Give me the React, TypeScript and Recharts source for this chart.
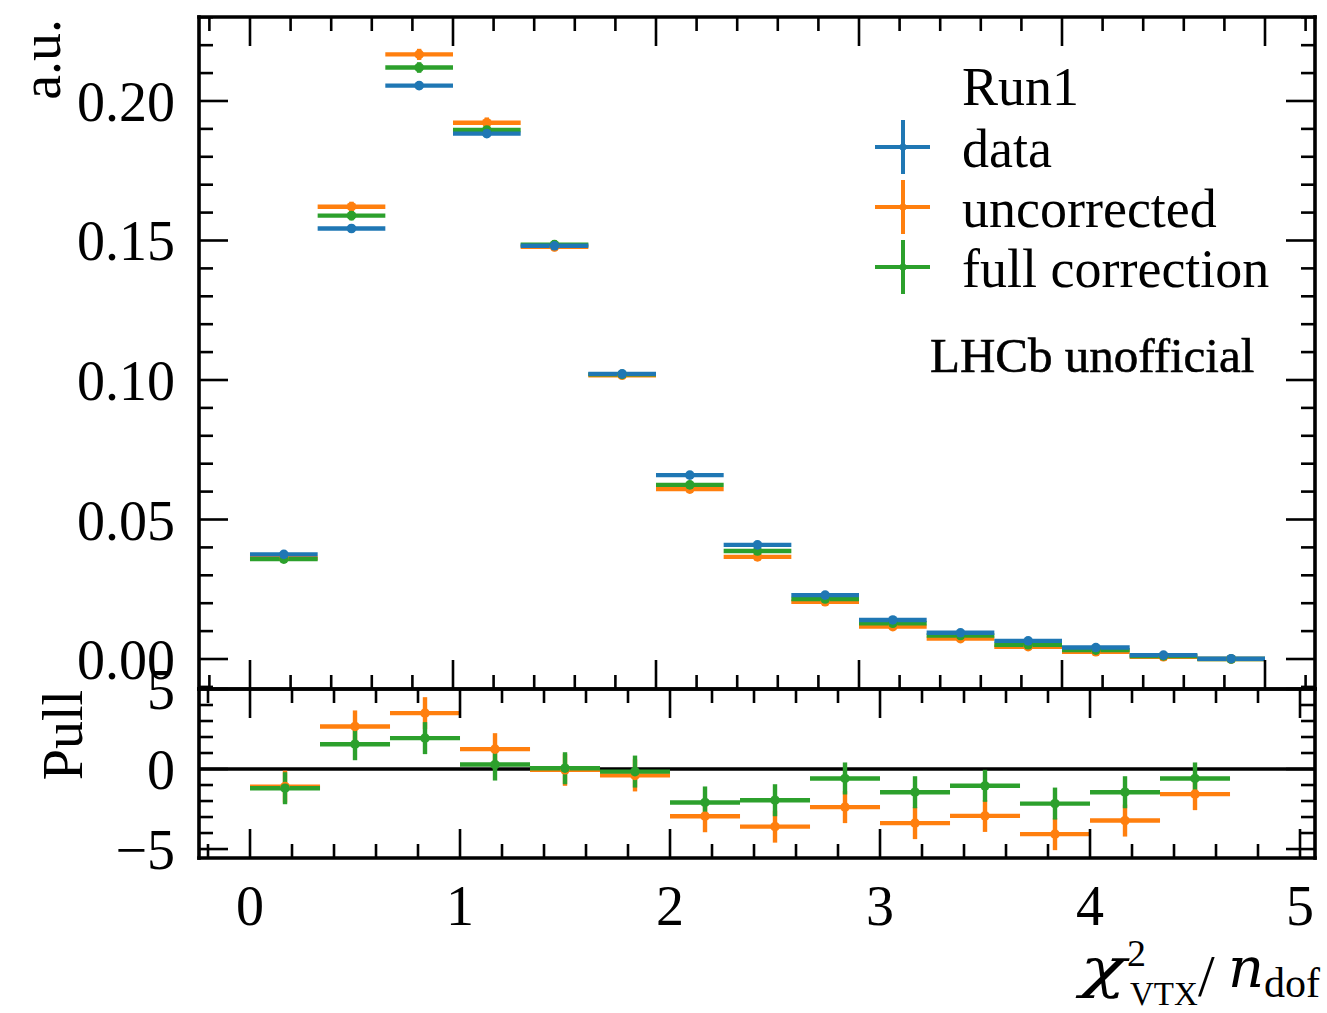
import React from 'react';
import { ScatterChart, Scatter, XAxis, YAxis, ErrorBar, ReferenceLine } from 'recharts';

const FONT = '"Liberation Serif", "DejaVu Serif", serif';
const BLUE = '#1f77b4';
const ORANGE = '#ff7f0e';
const GREEN = '#2ca02c';

// ---- categories (bin centres, chi2/ndof) ----
const binCenters = [0.1667, 0.5, 0.8333, 1.1667, 1.5, 1.8333, 2.1667, 2.5, 2.8333, 3.1667, 3.5, 3.8333, 4.1667, 4.5, 4.8333];
const binHalfWidths = [0.1667, 0.1667, 0.1667, 0.1667, 0.1667, 0.1667, 0.1667, 0.1667, 0.1667, 0.1667, 0.1667, 0.1667, 0.1667, 0.1667, 0.1667];

// ---- top panel values (a.u.) ----
const dataValues = [0.0375, 0.1543, 0.2055, 0.1883, 0.1481, 0.1022, 0.0659, 0.0409, 0.0229, 0.0140, 0.0094, 0.0065, 0.0041, 0.0014, 0.0001];
const dataErrors = [0.0008, 0.0014, 0.0015, 0.0015, 0.0013, 0.0011, 0.0009, 0.0007, 0.0005, 0.0004, 0.0003, 0.0003, 0.0002, 0.0001, 0.0001];
const uncorrectedValues = [0.0362, 0.1621, 0.2167, 0.1922, 0.1477, 0.1017, 0.0609, 0.0366, 0.0205, 0.0116, 0.0073, 0.0044, 0.0026, 0.0008, 0.0000];
const uncorrectedErrors = [0.0008, 0.0018, 0.0020, 0.0019, 0.0016, 0.0013, 0.0010, 0.0008, 0.0006, 0.0004, 0.0003, 0.0003, 0.0002, 0.0001, 0.0001];
const fullCorrectionValues = [0.0358, 0.1589, 0.2120, 0.1896, 0.1485, 0.1020, 0.0624, 0.0387, 0.0215, 0.0128, 0.0084, 0.0051, 0.0032, 0.0011, 0.0000];
const fullCorrectionErrors = [0.0008, 0.0017, 0.0019, 0.0018, 0.0016, 0.0013, 0.0010, 0.0008, 0.0006, 0.0004, 0.0003, 0.0003, 0.0002, 0.0001, 0.0001];

// ---- pull panel values ----
const pullUncorrected = [-1.1, 2.66, 3.49, 1.24, -0.05, -0.4, -2.95, -3.6, -2.38, -3.38, -2.93, -4.07, -3.22, -1.57, null];
const pullFullCorrection = [-1.2, 1.55, 1.93, 0.28, 0.05, -0.16, -2.09, -1.95, -0.59, -1.45, -1.05, -2.16, -1.45, -0.59, null];
const pullErrors = [1.0, 1.0, 1.0, 1.0, 1.0, 1.0, 1.0, 1.0, 1.0, 1.0, 1.0, 1.0, 1.0, 1.0, 1.0];

// ---- ticks ----
const xMajorTicks = [0, 1, 2, 3, 4, 5];
const xTickLabels = ['0', '1', '2', '3', '4', '5'];
const yMajorTicks = [0, 0.05, 0.1, 0.15, 0.2];
const yTickLabels = ['0.00', '0.05', '0.10', '0.15', '0.20'];
const pullMajorTicks = [-5, 0, 5];
const pullTickLabels = ['\u22125', '0', '5'];

const legendTitle = 'Run1';
const seriesNames = ['data', 'uncorrected', 'full correction'];
const seriesColors = [BLUE, ORANGE, GREEN];

const TOP_X_DOMAIN: [number, number] = [-0.2512, 5.2463];
const TOP_Y_DOMAIN: [number, number] = [-0.01075, 0.2301];
const PULL_X_DOMAIN: [number, number] = [-0.2429, 5.0714];
const PULL_Y_DOMAIN: [number, number] = [-5.56, 5.0];

function steps(start: number, stop: number, step: number): number[] {
  const out: number[] = [];
  const n = Math.round((stop - start) / step);
  for (let i = 0; i <= n; i++) out.push(Math.round((start + i * step) * 1e6) / 1e6);
  return out;
}

const topXTicks = steps(-0.2, 5.2, 0.2);
const pullXTicks = steps(-0.2, 5.0, 0.2);
const topYTicks = steps(-0.01, 0.23, 0.01);
const pullYTicks = steps(-5, 5, 1);

type Side = 'bottom' | 'top' | 'left' | 'right';

const tickFactory = (side: Side, majors: number[], labels: string[] | null) => (props: any) => {
  const { x, y, payload } = props;
  const v = payload.value;
  const idx = majors.findIndex((m) => Math.abs(m - v) < 1e-6);
  const major = idx >= 0;
  const len = major ? 29 : 14;
  let x2 = x;
  let y2 = y;
  if (side === 'bottom') y2 = y - len;
  if (side === 'top') y2 = y + len;
  if (side === 'left') x2 = x + len;
  if (side === 'right') x2 = x - len;
  let label: any = null;
  if (major && labels) {
    if (side === 'bottom') {
      label = (
        <text x={x} y={y + 67} textAnchor="middle" fontFamily={FONT} fontSize={56} fill="#000">
          {labels[idx]}
        </text>
      );
    } else if (side === 'left') {
      label = (
        <text x={x - 24} y={y + 20} textAnchor="end" fontFamily={FONT} fontSize={56} fill="#000">
          {labels[idx]}
        </text>
      );
    }
  }
  return (
    <g>
      <line x1={x} y1={y} x2={x2} y2={y2} stroke="#000" strokeWidth={2.6} />
      {label}
    </g>
  );
};

const axisLine = { stroke: '#000', strokeWidth: 3.6, strokeLinecap: 'square' as const };

const dot = (color: string) => (p: any) =>
  p.cx == null || p.cy == null ? <g /> : <circle cx={p.cx} cy={p.cy} r={4.8} fill={color} />;

function rows(values: (number | null)[], errs: number[]) {
  return binCenters
    .map((x, i) => ({ x, y: values[i], xerr: binHalfWidths[i], yerr: errs[i] }))
    .filter((r) => r.y !== null && r.y !== undefined);
}

const topSeries = [
  { name: seriesNames[1], color: ORANGE, data: rows(uncorrectedValues, uncorrectedErrors) },
  { name: seriesNames[2], color: GREEN, data: rows(fullCorrectionValues, fullCorrectionErrors) },
  { name: seriesNames[0], color: BLUE, data: rows(dataValues, dataErrors) },
];

const pullSeries = [
  { name: seriesNames[1], color: ORANGE, data: rows(pullUncorrected, pullErrors) },
  { name: seriesNames[2], color: GREEN, data: rows(pullFullCorrection, pullErrors) },
];

function renderSeries(list: typeof topSeries) {
  return list.map((s) => (
    <Scatter
      key={s.name}
      name={s.name}
      data={s.data}
      dataKey="y"
      xAxisId="b"
      yAxisId="l"
      fill={s.color}
      shape={dot(s.color)}
      isAnimationActive={false}
    >
      <ErrorBar dataKey="xerr" direction="x" width={0} stroke={s.color} strokeWidth={4.4} isAnimationActive={false} />
      <ErrorBar dataKey="yerr" direction="y" width={0} stroke={s.color} strokeWidth={4.4} isAnimationActive={false} />
    </Scatter>
  ));
}

function axesFor(xDomain: [number, number], yDomain: [number, number], xTicks: number[], yTicks: number[],
  yMajors: number[], xLabels: string[] | null, yLabels: string[]) {
  return [
    <XAxis key="xb" xAxisId="b" dataKey="x" type="number" orientation="bottom" domain={xDomain} allowDataOverflow
      ticks={xTicks} interval={0} height={1} tickSize={0} tickMargin={0} tickLine={false} axisLine={axisLine}
      tick={tickFactory('bottom', xMajorTicks, xLabels)} />,
    <XAxis key="xt" xAxisId="t" dataKey="x" type="number" orientation="top" domain={xDomain} allowDataOverflow
      ticks={xTicks} interval={0} height={1} tickSize={0} tickMargin={0} tickLine={false} axisLine={axisLine}
      tick={tickFactory('top', xMajorTicks, null)} />,
    <YAxis key="yl" yAxisId="l" dataKey="y" type="number" orientation="left" domain={yDomain} allowDataOverflow
      ticks={yTicks} interval={0} width={1} tickSize={0} tickMargin={0} tickLine={false} axisLine={axisLine}
      tick={tickFactory('left', yMajors, yLabels)} />,
    <YAxis key="yr" yAxisId="r" dataKey="y" type="number" orientation="right" domain={yDomain} allowDataOverflow
      ticks={yTicks} interval={0} width={1} tickSize={0} tickMargin={0} tickLine={false} axisLine={axisLine}
      tick={tickFactory('right', yMajors, null)} />,
  ];
}

export default function App() {
  return (
    <div style={{ position: 'absolute', left: 0, top: 0, width: 1327, height: 1013, background: '#fff', fontFamily: FONT }}>
      {/* main panel: plot area x 199..1315, y 17..689 */}
      <div style={{ position: 'absolute', left: 0, top: 0 }}>
        <ScatterChart width={1327} height={700} margin={{ top: 16, left: 198, right: 11, bottom: 10 }}>
          {axesFor(TOP_X_DOMAIN, TOP_Y_DOMAIN, topXTicks, topYTicks, yMajorTicks, null, yTickLabels)}
          {renderSeries(topSeries)}
        </ScatterChart>
      </div>
      {/* pull panel: plot area x 199..1315, y 689..858 */}
      <div style={{ position: 'absolute', left: 0, top: 640 }}>
        <ScatterChart width={1327} height={373} margin={{ top: 48, left: 198, right: 11, bottom: 154 }}>
          {axesFor(PULL_X_DOMAIN, PULL_Y_DOMAIN, pullXTicks, pullYTicks, pullMajorTicks, xTickLabels, pullTickLabels)}
          <ReferenceLine xAxisId="b" yAxisId="l" y={0} stroke="#000" strokeWidth={3.4} />
          {renderSeries(pullSeries)}
        </ScatterChart>
      </div>
      {/* labels and legend */}
      <svg width={1327} height={1013} style={{ position: 'absolute', left: 0, top: 0, pointerEvents: 'none' }}>
        <text transform="translate(60,19) rotate(-90)" textAnchor="end" fontFamily={FONT} fontSize={56} fill="#000">a.u.</text>
        <text transform="translate(82,690) rotate(-90)" textAnchor="end" fontFamily={FONT} fontSize={56} fill="#000">Pull</text>
        <g fontFamily={FONT} fill="#000">
          <text x={1080} y={987} fontSize={54} fontFamily='"DejaVu Serif", serif' fontStyle="italic" fontWeight={300} textLength={46} lengthAdjust="spacingAndGlyphs">{'\u03c7'}</text>
          <text x={1127} y={966} fontSize={38}>2</text>
          <text x={1130} y={1005} fontSize={33}>VTX</text>
          <text x={1198} y={996} fontSize={60}>/</text>
          <text x={1228} y={987} fontSize={56} fontFamily='"DejaVu Serif", serif' fontStyle="italic">n</text>
          <text x={1264} y={997} fontSize={42}>dof</text>
        </g>
        <text x={962} y={105} fontFamily={FONT} fontSize={54} fill="#000">{legendTitle}</text>
        {seriesNames.map((name, i) => {
          const cy = 147 + i * 60;
          const c = seriesColors[i];
          return (
            <g key={name}>
              <line x1={875} x2={930} y1={cy} y2={cy} stroke={c} strokeWidth={4} />
              <line x1={903} x2={903} y1={cy - 27} y2={cy + 27} stroke={c} strokeWidth={4} />
              <circle cx={903} cy={cy} r={3.6} fill={c} />
              <text x={962} y={cy + 20} fontFamily={FONT} fontSize={54} fill="#000">{name}</text>
            </g>
          );
        })}
        <text x={930} y={372} fontFamily={FONT} fontSize={49} fill="#000" stroke="#000" strokeWidth={0.6}>LHCb unofficial</text>
      </svg>
    </div>
  );
}
